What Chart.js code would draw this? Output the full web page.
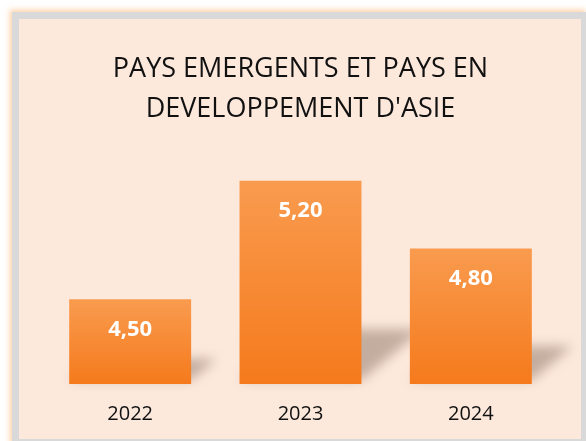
<!DOCTYPE html>
<html>
<head>
<meta charset="utf-8">
<script src="https://cdn.jsdelivr.net/npm/chart.js@4.4.0/dist/chart.umd.min.js"></script>
<style>
  html, body { margin: 0; padding: 0; background: #fff; overflow: hidden; }
  .frame {
    position: absolute; left: 12px; top: 12px;
    width: 562px; height: 420px;
    border: 7px solid #d9d9d9;
    background: #fde9dc;
    box-shadow: -2px -2px 6px rgba(255, 170, 90, 0.55);
  }
  .frame canvas { display: block; }
</style>
</head>
<body>
<div class="frame"><canvas id="chart" width="562" height="420"></canvas></div>
<script>
const categories = ['2022', '2023', '2024']
const values = [4.5, 5.2, 4.8]
const titleLines = ['PAYS EMERGENTS ET PAYS EN', "DEVELOPPEMENT D'ASIE"]

const fmt = v => v.toFixed(2).replace('.', ',')

// soft floor shadow cast to the right of each bar
const barShadow = {
  id: 'barShadow',
  beforeDatasetsDraw(chart) {
    const ctx = chart.ctx
    const meta = chart.getDatasetMeta(0)
    const floor = chart.chartArea.bottom
    ctx.save()
    ctx.filter = 'blur(6px)'
    ctx.fillStyle = 'rgba(115, 90, 75, 0.42)'
    meta.data.forEach(bar => {
      const left = bar.x - bar.width / 2
      const right = bar.x + bar.width / 2
      const h = floor - bar.y
      const dx = h * 0.3, dy = h * 0.25
      const b = floor - 4
      ctx.beginPath()
      ctx.moveTo(left, b)
      ctx.lineTo(right, b)
      ctx.lineTo(right + dx, b - dy)
      ctx.lineTo(left + dx, b - dy)
      ctx.closePath()
      ctx.fill()
    })
    ctx.restore()
  }
}

// white value labels inside the top of each bar
const barLabels = {
  id: 'barLabels',
  afterDatasetsDraw(chart) {
    const ctx = chart.ctx
    const meta = chart.getDatasetMeta(0)
    ctx.save()
    ctx.fillStyle = '#fff'
    ctx.font = 'bold 22px "Open Sans"'
    ctx.textAlign = 'center'
    ctx.textBaseline = 'middle'
    meta.data.forEach((bar, i) => {
      ctx.fillText(fmt(values[i]), bar.x, bar.y + 30)
    })
    ctx.restore()
  }
}

new Chart(document.getElementById('chart'), {
  type: 'bar',
  data: {
    labels: categories,
    datasets: [{
      data: values,
      categoryPercentage: 0.716,
      barPercentage: 1,
      backgroundColor(c) {
        const chart = c.chart
        const y = chart.scales.y
        if (!y || !c.parsed) return '#f6852f'
        const top = y.getPixelForValue(c.parsed.y)
        const base = y.getPixelForValue(y.min)
        if (!isFinite(top) || !isFinite(base) || top === base) return '#f6852f'
        const g = chart.ctx.createLinearGradient(0, top, 0, base)
        g.addColorStop(0, '#f99b4f')
        g.addColorStop(1, '#f57a1c')
        return g
      }
    }]
  },
  options: {
    responsive: false,
    animation: false,
    layout: { padding: { left: 26, right: 25, top: 0, bottom: 3 } },
    plugins: {
      legend: { display: false },
      tooltip: { enabled: false },
      title: {
        display: true,
        text: titleLines,
        color: '#111',
        font: { family: '"Open Sans"', size: 27, weight: 'normal', lineHeight: 1.48 },
        padding: { top: 30, bottom: 1 }
      }
    },
    scales: {
      x: {
        grid: { display: false },
        border: { display: false },
        ticks: { color: '#111', font: { family: '"Open Sans"', size: 20 }, padding: 10 }
      },
      y: { display: false, min: 4, max: 5.5 }
    }
  },
  plugins: [barShadow, barLabels]
})
</script>
</body>
</html>
